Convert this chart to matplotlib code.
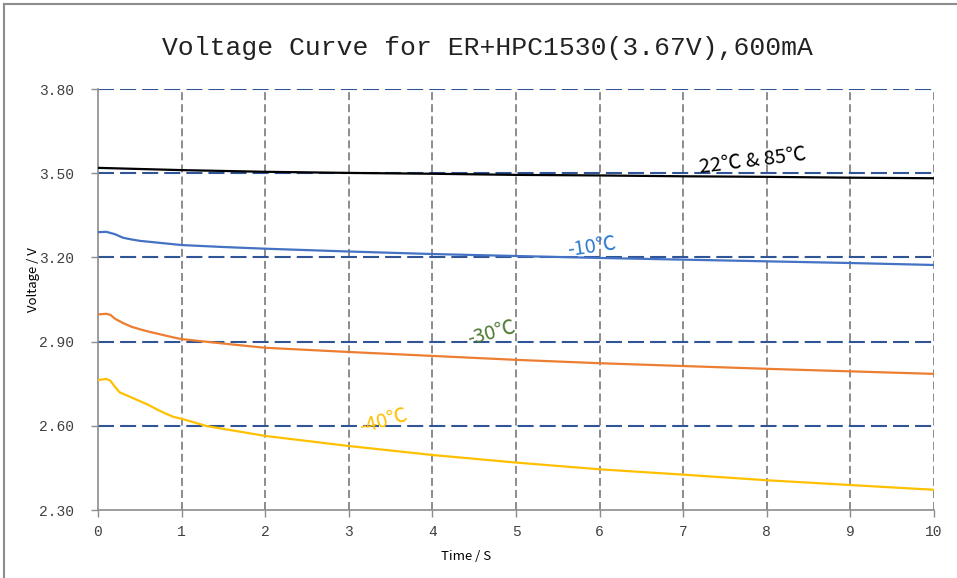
import matplotlib
matplotlib.use("Agg")
import matplotlib.pyplot as plt
from matplotlib.lines import Line2D

# ---------------- data ----------------
title = "Voltage Curve for ER+HPC1530(3.67V),600mA"
x_label = "Time / S"
y_label = "Voltage / V"

x_ticks = [0, 1, 2, 3, 4, 5, 6, 7, 8, 9, 10]
y_ticks = [2.30, 2.60, 2.90, 3.20, 3.50, 3.80]

t_22_85 = [0, 0.5, 1.0, 1.5, 2, 3, 4, 5, 6, 7, 8, 9, 10]
v_22_85 = [3.519, 3.515, 3.511, 3.508, 3.505, 3.501, 3.498, 3.494, 3.492,
           3.489, 3.487, 3.484, 3.482]

t_m10 = [0, 0.1, 0.2, 0.3, 0.4, 0.5, 0.6, 0.7, 0.8, 0.9, 1.0, 1.5, 2, 3, 4,
         5, 6, 7, 8, 9, 10]
v_m10 = [3.290, 3.291, 3.283, 3.270, 3.264, 3.259, 3.256, 3.253, 3.250,
         3.247, 3.244, 3.237, 3.231, 3.221, 3.212, 3.205, 3.198, 3.192,
         3.186, 3.180, 3.173]

t_m30 = [0, 0.1, 0.15, 0.2, 0.3, 0.4, 0.5, 0.6, 0.7, 0.8, 0.9, 1.0, 1.5, 2,
         3, 4, 5, 6, 7, 8, 9, 10]
v_m30 = [2.997, 2.999, 2.995, 2.982, 2.966, 2.953, 2.944, 2.936, 2.929,
         2.922, 2.915, 2.909, 2.893, 2.878, 2.863, 2.849, 2.835, 2.823,
         2.813, 2.803, 2.794, 2.785]

t_m40 = [0, 0.1, 0.15, 0.2, 0.26, 0.3, 0.4, 0.5, 0.6, 0.7, 0.8, 0.9, 1.0,
         1.3, 1.5, 1.8, 2, 3, 4, 5, 6, 7, 8, 9, 10]
v_m40 = [2.763, 2.767, 2.760, 2.740, 2.719, 2.714, 2.701, 2.688, 2.675,
         2.659, 2.645, 2.632, 2.625, 2.599, 2.589, 2.574, 2.564, 2.528,
         2.496, 2.469, 2.445, 2.426, 2.406, 2.389, 2.372]

labels = ["22℃ & 85℃", "-10℃", "-30℃", "-40℃"]

# ---------------- styling ----------------
line_colors = ["#000000", "#4472C4", "#ED7D31", "#FFC000"]
label_colors = ["#000000", "#2E7BCF", "#4F7A35", "#FFC000"]
label_pos = [(7.83, 3.543), (5.91, 3.237), (4.71, 2.931), (3.41, 2.617)]
label_rot = [7, 8, 15, 15]

W, H = 957, 578
fig = plt.figure(figsize=(W / 100, H / 100), dpi=100)
fig.patch.set_facecolor("white")

ax = fig.add_axes([98 / W, 1 - 510 / H, (934 - 98) / W, (510 - 89) / H])
ax.set_xlim(0, 10)
ax.set_ylim(2.30, 3.80)

# grid lines
for xv in x_ticks[1:]:
    ax.axvline(xv, color="#8C8C8C", lw=1.4, ls=(0, (4.1, 2.1)), zorder=1)
for yv in y_ticks[1:]:
    ax.axhline(yv, color="#2F5597", lw=1.5, ls=(0, (7.7, 2.9)), zorder=1)

series = [(t_22_85, v_22_85), (t_m10, v_m10), (t_m30, v_m30), (t_m40, v_m40)]
for (t, v), c in zip(series, line_colors):
    ax.plot(t, v, color=c, lw=1.6, zorder=3, solid_joinstyle="round")

for lab, c, (px, py), r in zip(labels, label_colors, label_pos, label_rot):
    ax.text(px, py, lab, color=c, rotation=r, ha="center", va="center",
            fontsize=14.5, family=["Noto Sans CJK SC", "DejaVu Sans"],
            rotation_mode="anchor", zorder=4)

for s in ["top", "right"]:
    ax.spines[s].set_visible(False)
for s in ["left", "bottom"]:
    ax.spines[s].set_color("#8C8C8C")
    ax.spines[s].set_linewidth(1.2)

ax.set_xticks(x_ticks)
ax.set_xticklabels([str(x) for x in x_ticks])
ax.set_yticks(y_ticks)
ax.set_yticklabels(["%.2f" % y for y in y_ticks])
ax.tick_params(axis="both", direction="out", length=5, width=1.0,
               color="#8C8C8C", labelcolor="#404040", labelsize=10.5)
ax.tick_params(axis="y", pad=12)
ax.tick_params(axis="x", pad=6)
for lbl in ax.get_xticklabels() + ax.get_yticklabels():
    lbl.set_family("Liberation Mono")

fig.text(466 / W, 1 - 557 / H, x_label, ha="center", va="center",
         fontsize=9.5, family=["Noto Sans CJK SC", "DejaVu Sans"], color="#000000")
fig.text(33 / W, 1 - 280 / H, y_label, ha="center", va="center", rotation=90,
         fontsize=9.5, family=["Noto Sans CJK SC", "DejaVu Sans"], color="#000000")

fig.text(487 / W, 1 - 48 / H, title, ha="center", va="center",
         fontsize=19, family="Liberation Mono", color="#222222")

# figure border (left & top visible)
fig.add_artist(Line2D([4 / W, 4 / W], [0, 1 - 4 / H], transform=fig.transFigure,
                      color="#8C8C8C", lw=1.5))
fig.add_artist(Line2D([4 / W, 1], [1 - 4 / H, 1 - 4 / H], transform=fig.transFigure,
                      color="#8C8C8C", lw=1.5))

fig.savefig("out.png", dpi=100, facecolor="white")
